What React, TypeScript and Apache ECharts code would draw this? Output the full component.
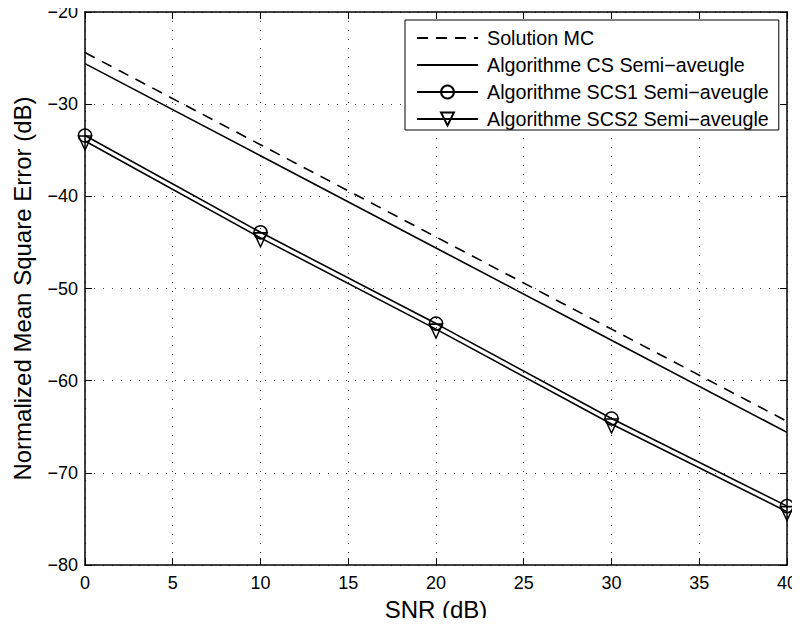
import React, { useEffect, useRef } from "react";
import * as echarts from "echarts";

const snr = [0, 10, 20, 30, 40];
const solutionMC = [-24.4, -34.4, -44.4, -54.4, -64.4];
const algoCS = [-25.6, -35.6, -45.6, -55.6, -65.6];
const algoSCS1 = [-33.4, -43.9, -53.8, -64.1, -73.6];
const algoSCS2 = [-34.0, -44.5, -54.4, -64.7, -74.2];
const seriesNames = [
  "Solution MC",
  "Algorithme CS Semi\u2212aveugle",
  "Algorithme SCS1 Semi\u2212aveugle",
  "Algorithme SCS2 Semi\u2212aveugle",
];

const FONT = "'Liberation Sans', Arial, Helvetica, sans-serif";
const fmt = (v: number) => (v < 0 ? "\u2212" + Math.abs(v) : String(v));
const toPairs = (ys: number[]) => snr.map((x, i) => [x, ys[i]]);

export default function App() {
  const ref = useRef<HTMLDivElement>(null);
  useEffect(() => {
    if (!ref.current) return;
    const chart = echarts.init(ref.current, undefined, { renderer: "svg" });
    const gridLine = { show: true, lineStyle: { color: "#444", type: [1, 8] as any, width: 1 } };
    const axisLine = { show: true, onZero: false, lineStyle: { color: "#000", width: 1.5 } };
    const tickIn = { show: true, inside: true, length: 7, lineStyle: { color: "#000", width: 1 } };
    const hiddenIcon = { color: "rgba(0,0,0,0)", borderWidth: 0, opacity: 0 };
    chart.setOption({
      animation: false,
      backgroundColor: "#fff",
      textStyle: { fontFamily: FONT },
      grid: { left: 85, right: 11, top: 12, bottom: 60, containLabel: false },
      legend: {
        orient: "vertical",
        left: 405,
        top: 20,
        padding: [8, 10, 1, 11],
        itemGap: 7,
        itemWidth: 61,
        itemHeight: 16,
        borderColor: "#000",
        borderWidth: 1,
        backgroundColor: "#fff",
        textStyle: { fontFamily: FONT, fontSize: 19.7, color: "#000", padding: [0, 0, 0, 4] },
        data: [
          { name: seriesNames[0], itemStyle: hiddenIcon },
          { name: seriesNames[1], itemStyle: hiddenIcon },
          { name: seriesNames[2] },
          { name: seriesNames[3] },
        ],
      },
      xAxis: [
        {
          type: "value",
          min: 0,
          max: 40,
          interval: 5,
          axisLine,
          axisTick: tickIn,
          splitLine: gridLine,
          axisLabel: { color: "#000", fontSize: 18, fontFamily: FONT, margin: 9, formatter: fmt },
          name: "SNR (dB)",
          nameLocation: "middle",
          nameGap: 30,
          nameTextStyle: { color: "#000", fontSize: 24, fontFamily: FONT },
        },
        {
          type: "value",
          position: "top",
          min: 0,
          max: 40,
          interval: 5,
          axisLine,
          axisTick: tickIn,
          splitLine: { show: false },
          axisLabel: { show: false },
        },
      ],
      yAxis: [
        {
          type: "value",
          min: -80,
          max: -20,
          interval: 10,
          axisLine,
          axisTick: tickIn,
          splitLine: gridLine,
          axisLabel: { color: "#000", fontSize: 18, fontFamily: FONT, margin: 7, formatter: fmt },
          name: "Normalized Mean Square Error (dB)",
          nameLocation: "middle",
          nameGap: 51,
          nameTextStyle: { color: "#000", fontSize: 24, fontFamily: FONT },
        },
        {
          type: "value",
          position: "right",
          min: -80,
          max: -20,
          interval: 10,
          axisLine,
          axisTick: tickIn,
          splitLine: { show: false },
          axisLabel: { show: false },
        },
      ],
      series: [
        {
          name: seriesNames[0],
          type: "line",
          data: toPairs(solutionMC),
          showSymbol: false,
          symbol: "none",
          lineStyle: { color: "#000", width: 1.6, type: [11, 8] as any },
          itemStyle: { color: "#000" },
        },
        {
          name: seriesNames[1],
          type: "line",
          data: toPairs(algoCS),
          symbol: "none",
          lineStyle: { color: "#000", width: 1.6 },
          itemStyle: { color: "#000" },
        },
        {
          name: seriesNames[2],
          type: "line",
          data: toPairs(algoSCS1),
          symbol: "circle",
          symbolSize: 13,
          lineStyle: { color: "#000", width: 1.6 },
          itemStyle: { color: "rgba(0,0,0,0)", borderColor: "#000", borderWidth: 1.5 },
        },
        {
          name: seriesNames[3],
          type: "line",
          data: toPairs(algoSCS2),
          symbol: "path://M0,0 L12,0 L6,13 Z",
          symbolSize: [13, 14],
          symbolOffset: [0, 2],
          lineStyle: { color: "#000", width: 1.6 },
          itemStyle: { color: "rgba(0,0,0,0)", borderColor: "#000", borderWidth: 1.5 },
        },
      ],
    });
    return () => chart.dispose();
  }, []);
  return <div ref={ref} style={{ width: 800, height: 626, margin: -8 }} />;
}
